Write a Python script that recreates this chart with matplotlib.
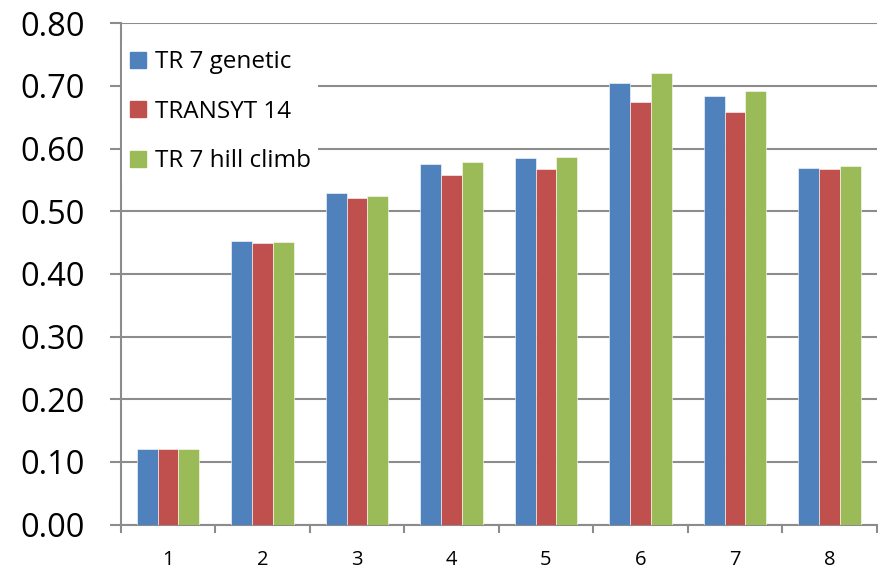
import matplotlib
matplotlib.use("Agg")
import matplotlib.pyplot as plt
from matplotlib.lines import Line2D
import numpy as np

plt.rcParams['font.family'] = ['Open Sans', 'DejaVu Sans']

categories = ["1", "2", "3", "4", "5", "6", "7", "8"]
series_names = ["TR 7 genetic", "TRANSYT 14", "TR 7 hill climb"]
tr7_genetic = [0.121, 0.452, 0.529, 0.576, 0.585, 0.705, 0.684, 0.569]
transyt14 = [0.121, 0.450, 0.521, 0.558, 0.567, 0.674, 0.659, 0.567]
tr7_hill = [0.121, 0.451, 0.525, 0.578, 0.586, 0.721, 0.691, 0.572]
colors = ["#4F81BD", "#C0504D", "#9BBB59"]
yticks = [0.0, 0.1, 0.2, 0.3, 0.4, 0.5, 0.6, 0.7, 0.8]

fig = plt.figure(figsize=(8.85, 5.70), dpi=100)
ax = fig.add_axes([120.7/885, 1-524.7/570, (876.7-120.7)/885, (524.7-23.1)/570])

x = np.arange(len(categories))
w = 0.22
for i, (vals, c) in enumerate(zip([tr7_genetic, transyt14, tr7_hill], colors)):
    ax.bar(x + (i-1)*w, vals, width=w, color=c, edgecolor='white', linewidth=0.4, zorder=3)

ax.set_xlim(-0.5, len(categories)-0.5)
ax.set_ylim(0, 0.8)
ax.set_yticks(yticks)
ax.set_yticklabels([f"{v:.2f}" for v in yticks], fontsize=23.5)
ax.yaxis.grid(True, color='#8c8c8c', linewidth=1.5, zorder=0)
ax.set_axisbelow(True)

ax.set_xticks(x)
ax.set_xticklabels(categories, fontsize=14.5)
ax.set_xticks(np.arange(-0.5, len(categories)), minor=True)
ax.tick_params(axis='x', which='major', length=0, pad=18)
ax.tick_params(axis='x', which='minor', length=6, width=1.5, color='#8c8c8c', direction='out')
ax.tick_params(axis='y', length=8, width=1.5, color='#8c8c8c', direction='out', pad=18)

for s in ['top', 'right']:
    ax.spines[s].set_visible(False)
for s in ['left', 'bottom']:
    ax.spines[s].set_color('#8c8c8c')
    ax.spines[s].set_linewidth(1.5)

handles = [Line2D([], [], linestyle='none', marker='s', markersize=11.5,
                  markerfacecolor=c, markeredgecolor=c) for c in colors]
leg = ax.legend(handles, series_names, loc='upper left', bbox_to_anchor=(-0.008, 0.975),
                fontsize=17.5, frameon=True, framealpha=1, facecolor='white', edgecolor='none',
                handlelength=0.7, handletextpad=0.35, labelspacing=1.05, borderaxespad=0.3,
                borderpad=0.3, fancybox=False)
leg.set_zorder(5)

fig.savefig("out.png", dpi=100)
